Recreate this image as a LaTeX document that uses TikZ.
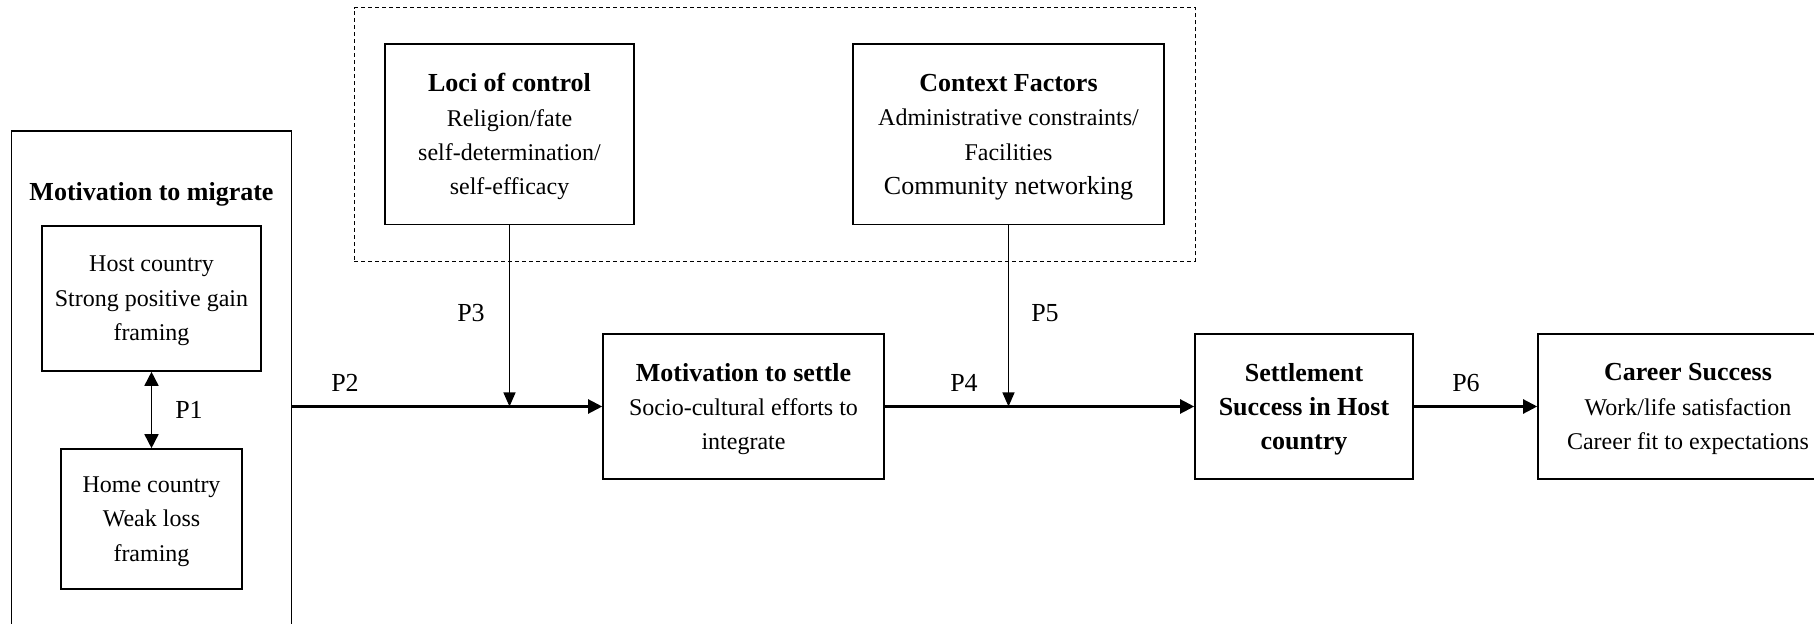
\documentclass[tikz,border=0pt]{standalone}
\usepackage{fontspec}
\setmainfont{Liberation Serif}
\usetikzlibrary{arrows.meta}

\newcommand{\headline}[1]{{\fontsize{13}{17.2}\selectfont\bfseries #1}}

\begin{document}
\begin{tikzpicture}[
			x=0.5pt, y=-0.5pt,
			every node/.style={font=\fontsize{12}{17.2}\selectfont, align=center, inner sep=0pt},
			block/.style={draw, line width=0.8pt, text depth=-1.5pt},
			group/.style={draw, line width=0.5pt, dash pattern=on 2pt off 1.5pt},
			to/.style={-{Triangle[length=7pt,width=7pt]}, line width=1.1pt},
			hook/.style={-{Triangle[length=7pt,width=6pt]}, line width=0.6pt},
			both/.style={{Triangle[length=7pt,width=7pt]}-{Triangle[length=7pt,width=7pt]}, line width=0.8pt},
			tag/.style={font=\fontsize{13}{17}\selectfont}
			]
			
			\clip (0,0) rectangle (1814,624);
			
			% left column
			\node (migrate) [block, minimum width=140pt, minimum height=264.5pt] at (151.5,395.5) {};
			\node (migtitle) at (151.5,194.5) {\headline{Motivation to migrate}};
			\node (host) [block, minimum width=109.5pt, minimum height=72.5pt] at (151.5,298.5)
				{Host country\\Strong positive gain\\framing};
			\node (home) [block, minimum width=90.5pt, minimum height=70pt] at (151.5,519)
				{Home country\\Weak loss\\framing};
			
			% moderators
			\node (factors) [group, minimum width=420.5pt, minimum height=126.75pt] at (774.5,134.75) {};
			\node (loci) [block, minimum width=124.5pt, minimum height=90.25pt] at (509.5,134.25)
				{\headline{Loci of control}\\Religion/fate\\self-determination/\\self-efficacy};
			\node (context) [block, minimum width=155.5pt, minimum height=90.25pt] at (1008.5,134.25)
				{\headline{Context Factors}\\Administrative constraints/\\Facilities\\{\fontsize{13}{17.2}\selectfont Community networking}};
			
			% main chain
			\node (settle) [block, minimum width=140.5pt, minimum height=72.5pt] at (743.5,406.5)
				{\headline{Motivation to settle}\\Socio-cultural efforts to\\integrate};
			\node (settlement) [block, minimum width=109pt, minimum height=72.5pt] at (1304,406.5)
				{\headline{Settlement}\\\headline{Success in Host}\\\headline{country}};
			\node (career) [block, minimum width=150pt, minimum height=72.5pt] at (1688,406.5)
				{\headline{Career Success}\\Work/life satisfaction\\Career fit to expectations};
			
			\draw[both] (host) -- (home);
			\draw[to] (migrate.east |- settle.west) -- (settle.west);
			\draw[hook] (loci.south) -- (loci.south |- settle.west);
			\draw[to] (settle) -- (settlement);
			\draw[hook] (context.south) -- (context.south |- settle.west);
			\draw[to] (settlement) -- (career);
			
			\node (p1) [tag] at (189,410) {P1};
			\node (p2) [tag] at (345,383) {P2};
			\node (p3) [tag] at (471,313) {P3};
			\node (p4) [tag] at (964,383) {P4};
			\node (p5) [tag] at (1045,313) {P5};
			\node (p6) [tag] at (1466,383) {P6};
			
\end{tikzpicture}
\end{document}
